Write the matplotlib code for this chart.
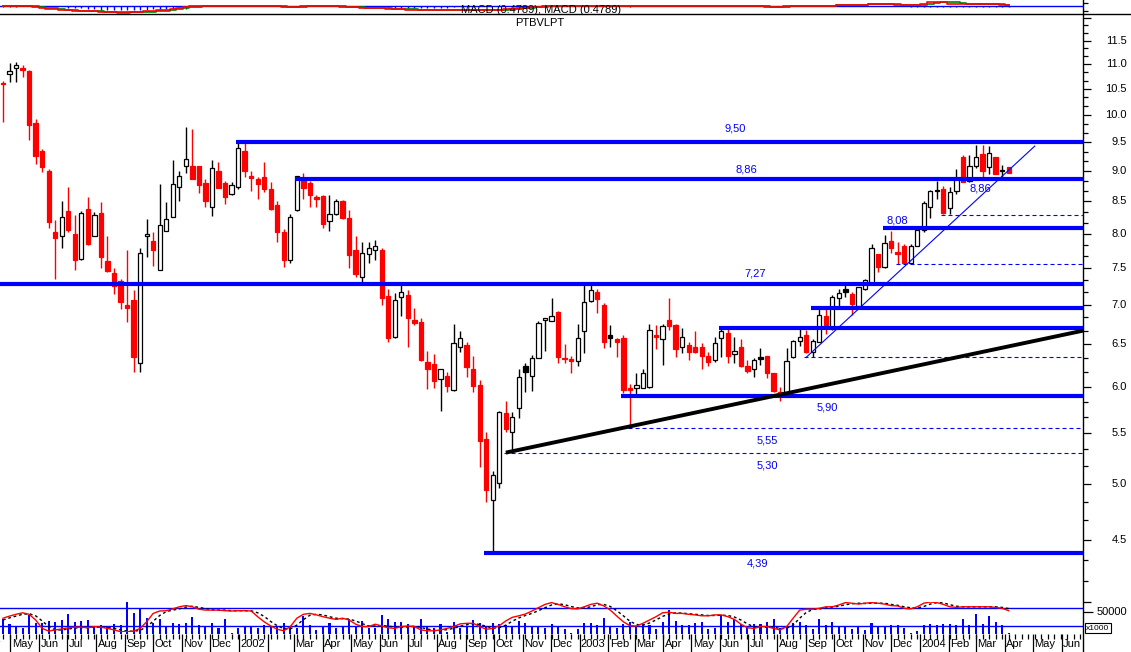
import matplotlib
matplotlib.use("Agg")
import matplotlib.pyplot as plt
import matplotlib.dates as mdates
from matplotlib.lines import Line2D
from matplotlib.transforms import blended_transform_factory
from matplotlib.ticker import NullFormatter
import numpy as np
import pandas as pd

plt.rcParams['font.family'] = ['Liberation Sans', 'DejaVu Sans']

# weekly candles, first week starts Mon 2001-04-23
first_week = '2001-04-23'
n_weeks = 155

opens = [10.62, 10.80, 10.92, 10.92, 10.86, 9.85, 9.34, 9.00, 8.03, 7.96,
         8.34, 7.99, 7.62, 8.38, 7.97, 8.31, 7.60, 7.43, 7.32, 6.99,
         7.06, 6.27, 7.96, 7.89, 7.47, 8.04, 8.26, 8.73, 9.09, 9.09,
         9.09, 8.80, 8.41, 9.00, 8.80, 8.61, 8.73, 9.34, 8.92, 8.87,
         8.90, 8.70, 8.44, 8.02, 7.61, 8.36, 8.85, 8.80, 8.57, 8.59,
         8.19, 8.30, 8.50, 8.24, 7.75, 7.37, 7.70, 7.76, 7.76, 7.11,
         6.59, 7.10, 7.13, 6.80, 6.77, 6.29, 6.26, 6.09, 6.12, 5.96,
         6.46, 6.49, 6.20, 6.02, 5.44, 4.85, 5.01, 5.71, 5.51, 5.76,
         6.24, 6.12, 6.33, 6.80, 6.79, 6.91, 6.33, 6.32, 6.30, 6.66,
         7.05, 7.17, 7.00, 6.61, 6.56, 6.57, 5.98, 5.99, 5.99, 6.00,
         6.61, 6.56, 6.80, 6.74, 6.47, 6.49, 6.47, 6.47, 6.35, 6.31,
         6.57, 6.64, 6.38, 6.47, 6.24, 6.20, 6.34, 6.35, 6.15, 5.94,
         5.93, 6.34, 6.54, 6.61, 6.40, 6.53, 6.85, 6.70, 7.09, 7.21,
         7.14, 6.98, 7.21, 7.29, 7.70, 7.51, 7.89, 7.73, 7.81, 7.57,
         7.82, 8.06, 8.41, 8.68, 8.70, 8.39, 8.66, 9.24, 8.83, 9.09,
         9.29, 9.07, 9.23, 9.02, 9.07]
highs = [10.66, 11.03, 11.05, 10.98, 10.88, 9.93, 9.38, 9.04, 8.20, 8.50,
         8.73, 8.28, 8.34, 8.57, 8.33, 8.49, 7.97, 7.50, 7.34, 7.75,
         7.19, 7.78, 8.22, 8.03, 8.78, 8.49, 9.19, 9.00, 9.78, 9.74,
         9.09, 8.87, 9.19, 9.15, 8.83, 8.82, 9.54, 9.49, 9.00, 8.90,
         9.15, 8.82, 8.50, 8.07, 8.30, 8.92, 8.97, 8.83, 8.60, 8.60,
         8.60, 8.54, 8.52, 8.36, 7.96, 7.88, 7.87, 7.90, 7.79, 7.21,
         7.16, 7.29, 7.20, 6.95, 6.82, 6.41, 6.38, 6.20, 6.17, 6.75,
         6.66, 6.53, 6.36, 6.07, 5.51, 5.12, 5.73, 5.84, 5.72, 6.20,
         6.27, 6.37, 6.79, 6.82, 7.09, 6.92, 6.50, 6.36, 6.75, 7.26,
         7.27, 7.21, 7.02, 6.74, 6.57, 6.61, 6.03, 6.16, 6.20, 6.75,
         6.74, 6.75, 7.09, 6.75, 6.70, 6.53, 6.66, 6.51, 6.40, 6.59,
         6.71, 6.71, 6.59, 6.56, 6.31, 6.33, 6.45, 6.36, 6.16, 6.00,
         6.45, 6.55, 6.70, 6.68, 6.56, 6.94, 6.94, 7.13, 7.21, 7.26,
         7.17, 7.23, 7.34, 7.85, 7.70, 7.98, 8.04, 7.87, 7.85, 7.85,
         8.09, 8.50, 8.68, 8.83, 8.75, 8.73, 9.04, 9.28, 9.28, 9.45,
         9.45, 9.43, 9.24, 9.10, 9.07]
lows = [9.87, 10.64, 10.64, 10.74, 9.54, 9.12, 8.99, 8.09, 7.34, 7.79,
        8.03, 7.47, 7.61, 7.83, 7.96, 7.50, 7.44, 7.14, 6.94, 6.77,
        6.17, 6.17, 7.66, 7.53, 7.47, 8.04, 8.26, 8.50, 8.97, 8.86,
        8.63, 8.41, 8.27, 8.71, 8.46, 8.60, 8.70, 8.90, 8.66, 8.54,
        8.65, 8.37, 7.88, 7.51, 7.57, 8.34, 8.54, 8.41, 8.41, 8.09,
        8.04, 8.28, 8.23, 7.50, 7.37, 7.30, 7.57, 7.61, 6.99, 6.52,
        6.57, 6.85, 6.46, 6.74, 6.30, 5.97, 5.98, 5.73, 5.94, 5.95,
        6.40, 6.11, 5.94, 5.16, 4.83, 4.39, 4.96, 5.51, 5.33, 5.66,
        5.94, 5.95, 6.33, 6.42, 6.79, 6.27, 6.27, 6.16, 6.24, 6.39,
        7.03, 6.89, 6.45, 6.46, 6.34, 5.93, 5.58, 5.88, 5.98, 5.98,
        6.44, 6.25, 6.67, 6.34, 6.39, 6.31, 6.39, 6.20, 6.24, 6.29,
        6.34, 6.27, 6.27, 6.23, 6.16, 6.11, 6.25, 6.10, 5.94, 5.84,
        5.92, 6.33, 6.48, 6.39, 6.34, 6.52, 6.63, 6.68, 6.97, 7.10,
        6.86, 6.97, 7.20, 7.28, 7.44, 7.50, 7.72, 7.55, 7.56, 7.56,
        7.81, 8.03, 8.24, 8.54, 8.30, 8.30, 8.61, 8.81, 8.82, 9.05,
        8.90, 8.94, 8.94, 8.90, 8.96]
closes = [10.60, 10.86, 10.98, 10.88, 9.82, 9.26, 9.07, 8.18, 7.93, 8.26,
          8.06, 7.61, 8.31, 7.84, 8.28, 7.66, 7.46, 7.25, 7.03, 6.95,
          6.34, 7.72, 8.00, 7.76, 8.13, 8.22, 8.78, 8.92, 9.21, 8.87,
          8.77, 8.50, 9.05, 8.72, 8.57, 8.77, 9.40, 9.00, 8.88, 8.78,
          8.70, 8.38, 8.03, 7.61, 8.26, 8.92, 8.72, 8.60, 8.54, 8.15,
          8.30, 8.50, 8.24, 7.69, 7.41, 7.72, 7.79, 7.81, 7.09, 6.57,
          7.06, 7.17, 6.82, 6.76, 6.31, 6.20, 6.06, 6.20, 6.01, 6.51,
          6.57, 6.22, 6.01, 5.42, 4.94, 5.08, 5.72, 5.54, 5.67, 6.11,
          6.17, 6.33, 6.76, 6.82, 6.85, 6.34, 6.32, 6.30, 6.57, 7.03,
          7.19, 7.07, 6.52, 6.57, 6.52, 5.96, 5.96, 6.02, 6.16, 6.67,
          6.59, 6.72, 6.72, 6.44, 6.59, 6.40, 6.40, 6.35, 6.28, 6.51,
          6.66, 6.35, 6.42, 6.24, 6.18, 6.31, 6.32, 6.15, 5.95, 5.91,
          6.30, 6.54, 6.59, 6.40, 6.54, 6.87, 6.70, 7.10, 7.16, 7.17,
          7.01, 7.23, 7.33, 7.78, 7.51, 7.86, 7.78, 7.70, 7.57, 7.82,
          8.06, 8.47, 8.66, 8.66, 8.31, 8.65, 8.88, 8.82, 9.09, 9.24,
          9.00, 9.31, 8.95, 9.00, 8.97]
black_weeks = [80, 93, 116, 129, 143, 153]   # candles drawn filled black

# volume, x1000
volume = [33400, 22000, 16700, 12900, 43200, 24200, 24200, 30300, 28000, 31000,
          45500, 26500, 30300, 31000, 16700, 19700, 18200, 22000, 19700, 72000,
          47000, 58300, 35600, 24200, 33400, 16700, 24200, 22000, 25800, 38600,
          20500, 18200, 24200, 12900, 33400, 3000, 13600, 18200, 18200, 13600,
          21200, 16700, 16700, 24200, 18200, 12900, 40900, 19700, 9100, 18200,
          24200, 13600, 18200, 34800, 18900, 28800, 14400, 14400, 43200, 34100,
          26500, 26500, 22000, 18900, 33400, 16700, 14400, 22000, 5300, 28000,
          13600, 16700, 31000, 24200, 18200, 24200, 22000, 19700, 18200, 28800,
          25800, 16700, 16700, 13600, 22000, 18200, 10600, 1500, 10600, 24200,
          24200, 20500, 35600, 16700, 13600, 22000, 28000, 16700, 22000, 20500,
          12100, 27300, 54500, 30300, 20500, 20500, 24200, 28000, 11400, 13600,
          43200, 28000, 33400, 22000, 16700, 22700, 22700, 26500, 34800, 12900,
          16700, 24200, 28000, 20500, 11400, 33400, 19700, 26500, 18900, 16700,
          10600, 18200, 9100, 24200, 16700, 16700, 19700, 20500, 13600, 3000,
          6800, 20500, 22700, 20500, 22000, 22700, 20500, 33400, 20500, 45500,
          22700, 40900, 27300, 20500, 3000]

# stochastic %K (red) and %D (dashed)
stoch_k = [46, 53, 59, 64, 59, 40, 12, 3, 7, 10,
           14, 16, 16, 14, 18, 16, 12, 7, 1, 1,
           3, 12, 34, 62, 70, 71, 77, 84, 88, 84,
           76, 73, 73, 73, 71, 70, 71, 71, 70, 51,
           34, 20, 9, 4, 18, 46, 59, 62, 57, 51,
           46, 42, 46, 40, 26, 18, 18, 26, 20, 14,
           12, 18, 20, 18, 7, 4, 4, 7, 12, 18,
           27, 29, 29, 18, 9, 12, 21, 37, 49, 54,
           60, 70, 81, 92, 98, 92, 84, 78, 77, 84,
           92, 96, 87, 73, 53, 34, 21, 20, 29, 40,
           51, 64, 66, 62, 62, 59, 57, 54, 54, 57,
           57, 51, 42, 26, 14, 12, 18, 18, 12, 7,
           18, 46, 73, 76, 76, 79, 84, 84, 90, 98,
           96, 93, 96, 98, 96, 93, 88, 87, 79, 77,
           84, 96, 100, 98, 92, 84, 82, 84, 84, 84,
           84, 84, 82, 79, 71]
stoch_d = [40, 47, 53, 59, 61, 54, 37, 18, 7, 7,
           10, 13, 15, 15, 16, 16, 15, 12, 7, 3,
           2, 6, 17, 36, 55, 68, 73, 77, 83, 86,
           82, 78, 74, 73, 73, 71, 71, 71, 71, 64,
           52, 35, 21, 11, 10, 23, 41, 56, 59, 57,
           51, 46, 44, 43, 37, 28, 20, 20, 21, 20,
           16, 15, 17, 19, 15, 10, 5, 5, 8, 12,
           19, 24, 28, 25, 19, 13, 14, 23, 36, 47,
           55, 62, 71, 81, 90, 94, 91, 85, 80, 80,
           84, 91, 92, 85, 71, 54, 36, 25, 23, 30,
           40, 52, 60, 64, 63, 61, 59, 57, 55, 55,
           56, 55, 50, 40, 27, 17, 15, 16, 16, 12,
           12, 23, 46, 65, 75, 77, 80, 83, 86, 91,
           94, 96, 95, 96, 96, 96, 92, 89, 84, 81,
           80, 85, 93, 98, 97, 91, 86, 84, 84, 84,
           84, 84, 84, 82, 78]

# MACD strip at the top (only its lower edge is visible)
macd_line = ([0.01, 0.01, 0.0, 0.0, 0.0, -0.01, -0.03, -0.05, -0.06, -0.08,
              -0.08, -0.09, -0.09, -0.10, -0.10, -0.11, -0.11, -0.12, -0.13, -0.13,
              -0.12, -0.11, -0.10, -0.10, -0.08, -0.07, -0.05, -0.03, -0.01, 0.0]
             + [0.0] * 13 + [-0.01, -0.02, -0.01] + [0.0] * 6
             + [-0.01, -0.02, -0.02, -0.03, -0.03, -0.03, -0.04, -0.05,
                -0.05, -0.06, -0.07, -0.07, -0.07, -0.08, -0.08, -0.08, -0.08, -0.07,
                -0.07, -0.07, -0.07, -0.07, -0.08, -0.08, -0.07, -0.06, -0.05, -0.04,
                -0.03, -0.02, -0.01]
             + [0.0] * 34 + [-0.01, -0.02, -0.01] + [0.0] * 8
             + [0.03, 0.03, 0.03, 0.03, 0.03, 0.05, 0.05, 0.05, 0.05, 0.03, 0.03, 0.03,
                0.03, 0.04, 0.07, 0.07, 0.07, 0.04, 0.04, 0.04, 0.04, 0.04,
                0.04, 0.04, 0.04, 0.03, 0.03])
macd_signal = ([0.0, 0.0, 0.0, 0.0, 0.0, 0.0, -0.01, -0.03, -0.04, -0.06,
                -0.07, -0.08, -0.09, -0.09, -0.10, -0.10, -0.11, -0.11, -0.12, -0.12,
                -0.12, -0.12, -0.11, -0.11, -0.10, -0.09, -0.07, -0.06, -0.04, -0.02,
                -0.01] + [0.0] * 13 + [-0.01, -0.01, -0.01] + [0.0] * 6
               + [-0.01, -0.02, -0.02, -0.03, -0.03, -0.03, -0.04,
                  -0.05, -0.05, -0.06, -0.06, -0.07, -0.07, -0.08, -0.08, -0.08, -0.08,
                  -0.08, -0.07, -0.07, -0.07, -0.07, -0.08, -0.08, -0.07, -0.06, -0.05,
                  -0.04, -0.03, -0.02, -0.01]
               + [0.0] * 34 + [-0.01, -0.02, -0.01] + [0.0] * 7
               + [0.02, 0.03, 0.03, 0.03, 0.03, 0.04, 0.05, 0.05, 0.05, 0.04, 0.03, 0.03,
                  0.03, 0.03, 0.05, 0.06, 0.08, 0.08, 0.07, 0.06, 0.05, 0.04,
                  0.04, 0.04, 0.04, 0.04, 0.03])
macd_hist = ([-0.01, -0.01, -0.01] + [0.0] * 7
             + [-0.03, -0.03, -0.03, -0.06, -0.06, -0.07, -0.07, -0.08, -0.08, -0.08,
                -0.08, -0.08, -0.08, -0.06, -0.07, -0.06, -0.05, -0.03, -0.05]
             + [0.0] * 26 + [-0.01] + [0.0] * 2
             + [-0.03, -0.04, -0.03, -0.04, -0.03, -0.04, -0.03, -0.04, -0.03, -0.04, -0.03, -0.02]
             + [0.0] * 26 + [-0.02] + [0.0] * 5 + [0.03] + [0.0] * 36 + [-0.015] * 16)

# support / resistance levels drawn on the chart
levels = [9.50, 8.86, 8.08, 7.27, 6.96, 6.70, 5.90, 4.39]
level_start = [36, 45, 135, None, 124, 110, 95, 74]
dashed_levels = [8.28, 7.56, 6.34, 5.55, 5.30]
dashed_start = [144, 137, 123, 96, 77]
label_text = ['9,50', '8,86', '8,86', '8,08', '7,27', '5,90', '5,55', '5,30', '4,39']
label_level = [9.50, 8.86, 8.86, 8.08, 7.27, 5.90, 5.55, 5.30, 4.39]
label_week = [112.1, 113.9, 149.6, 136.9, 115.2, 126.3, 117.0, 117.0, 115.6]
label_dy = [14, 10, -9, 8, 11, -12, -12, -13, -11]
# trend lines: (week, price) anchors
black_trend = [(77, 5.30), (119, 5.91)]
blue_trend = [(123, 6.34), (158, 9.43)]

# ---------------------------------------------------------------
W, H = 1131, 652
fig = plt.figure(figsize=(W / 100, H / 100), dpi=100)
fig.patch.set_facecolor('white')


def pbox(x0, y0, x1, y1):
    return [x0 / W, 1 - y1 / H, (x1 - x0) / W, (y1 - y0) / H]


ax = fig.add_axes(pbox(0, 0, 1083, 605))
axv = fig.add_axes(pbox(0, 590, 1083, 634))
axs = fig.add_axes(pbox(0, 602, 1083, 632))
axm = fig.add_axes(pbox(0, 0, 1083, 14))
axx = fig.add_axes(pbox(0, 634, 1083, 652))

x0 = mdates.date2num(pd.Timestamp(first_week))
xd = x0 + 7 * np.arange(n_weeks)
xlim = (x0 - 3.2, x0 + 1157.7)


def wx(w):
    return x0 + 7 * w


for a in (ax, axv, axs, axm, axx):
    a.set_xlim(*xlim)
    a.set_facecolor('none')
    for s in a.spines.values():
        s.set_visible(False)
    a.set_xticks([])
ax.set_zorder(3)
axm.set_zorder(4)

# ---- candles
o = np.array(opens); hi = np.array(highs); lo = np.array(lows); c = np.array(closes)
up = c >= o
face = np.where(up, 'white', '#ff0000').astype(object)
edge = np.where(up, 'black', '#ff0000').astype(object)
for i in black_weeks:
    face[i] = 'black'
    edge[i] = 'black'
ax.vlines(xd, lo, hi, colors=list(edge), lw=1.0, zorder=2)
ax.bar(xd, np.abs(c - o), bottom=np.minimum(o, c), width=4.6,
       color=list(face), edgecolor=list(edge), linewidth=0.9, zorder=3)

ax.set_yscale('log')
ax.set_ylim(3.98, 12.41)

# ---- levels
for lev, st in zip(levels, level_start):
    xs = xlim[0] if st is None else wx(st) - 2
    ax.hlines(lev, xs, xlim[1], colors='#0000ff', lw=3, zorder=4)
for lev, st in zip(dashed_levels, dashed_start):
    ax.hlines(lev, wx(st) - 2, xlim[1], colors='#0000ff', lw=0.8,
              linestyles=(0, (3.6, 2.7)), zorder=4)
for t, lev, w, dy in zip(label_text, label_level, label_week, label_dy):
    ax.annotate(t, (wx(w), lev), xytext=(0, dy), textcoords='offset pixels',
                ha='center', va='center', color='#0000ff', fontsize=8, zorder=6)

# ---- trend lines (straight on the log chart)
(wa, pa), (wb, pb) = black_trend
slope = (np.log(pb) - np.log(pa)) / (wx(wb) - wx(wa))
ax.plot([wx(wa), xlim[1]], [pa, np.exp(np.log(pa) + slope * (xlim[1] - wx(wa)))],
        color='black', lw=2.8, zorder=5, solid_capstyle='butt')
(wa, pa), (wb, pb) = blue_trend
ax.plot([wx(wa), wx(wb)], [pa, pb], color='#0000ff', lw=0.8, zorder=5)

# ---- price axis ticks
ax.yaxis.tick_right()
majors = np.arange(4.0, 12.01, 0.5)
ax.set_yticks(majors)
ax.yaxis.set_major_formatter(NullFormatter())
minors = [m + k / 6 for m in np.arange(4.0, 12.4, 0.5) for k in (1, 2)]
ax.set_yticks(minors, minor=True)
ax.yaxis.set_minor_formatter(NullFormatter())
ax.tick_params(axis='y', which='major', length=6, width=0.9, direction='out', color='black')
ax.tick_params(axis='y', which='minor', length=3.6, width=0.9, direction='out', color='black')
tr = blended_transform_factory(fig.transFigure, ax.transData)
for v in majors:
    if 4.25 < v < 11.75:
        ax.text(1127 / W, v, f'{v:.1f}', transform=tr, ha='right', va='center',
                fontsize=8, clip_on=False)

ax.text(540 / W, 1 - 23 / H, 'PTBVLPT', transform=fig.transFigure,
        ha='center', va='center', fontsize=8)

# ---- volume
axv.bar(xd, volume, width=2.2, color='#0000ff', zorder=2)
axv.set_ylim(0, 100000)
axv.yaxis.tick_right()
axv.set_yticks([50000])
axv.yaxis.set_major_formatter(NullFormatter())
axv.tick_params(axis='y', length=7, width=0.9, direction='out')
trv = blended_transform_factory(fig.transFigure, axv.transData)
axv.text(1127 / W, 50000, '50000', transform=trv, ha='right', va='center', fontsize=8)
fig.text(1098 / W, 1 - 628 / H, 'x1000', ha='center', va='center', fontsize=6,
         bbox=dict(boxstyle='square,pad=0.15', fc='white', ec='black', lw=0.8))

# ---- stochastic
axs.set_ylim(0, 100)
axs.set_yticks([])
axs.axhline(80, color='#0000ff', lw=1)
axs.axhline(20, color='#0000ff', lw=1)
axs.plot(xd, stoch_d, color='black', lw=1, ls=(0, (2, 2)))
axs.plot(xd, stoch_k, color='#ff0000', lw=1)

# ---- macd strip
axm.set_ylim(-0.16, 0.12)
axm.set_yticks([])
axm.axhline(0, color='#0000ff', lw=1)
axm.vlines(xd, 0, macd_hist, colors='#0000ff', lw=1)
axm.plot(xd, macd_signal, color='#008000', lw=1.2, drawstyle='steps-mid')
axm.plot(xd, macd_line, color='#ff0000', lw=1.2, drawstyle='steps-mid')
fig.text(541 / W, 1 - 10 / H, 'MACD (0.4789), MACD (0.4789)', ha='center',
         va='center', fontsize=8, zorder=10)

# ---- month axis
axx.set_ylim(0, 1)
axx.set_yticks([])
weeks_grid = x0 + 7 * np.arange(0, 166)
axx.vlines(weeks_grid, 0.7, 1.0, colors='black', lw=0.9)
for m in pd.date_range('2001-04-01', '2004-06-01', freq='MS'):
    xm = mdates.date2num(m)
    axx.vlines(xm, 0, 1, colors='black', lw=0.9)
    if m.year == 2002 and m.month == 2:
        continue
    lab = str(m.year) if m.month == 1 else m.strftime('%b')
    axx.text(xm + 1.5, 0.42, lab, ha='left', va='center', fontsize=8, clip_on=True)

# frame lines
fig.add_artist(Line2D([1083 / W, 1083 / W], [0, 1], color='black', lw=1))
fig.add_artist(Line2D([0, 1], [1 - 14 / H, 1 - 14 / H], color='black', lw=1))

fig.savefig('out.png', dpi=100)
